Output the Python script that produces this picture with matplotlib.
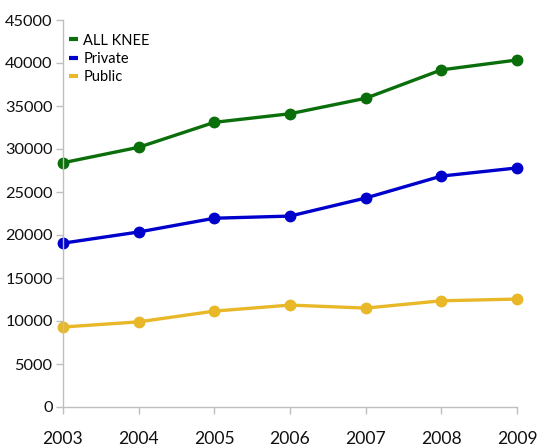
import matplotlib
matplotlib.use("Agg")
import matplotlib.pyplot as plt

years = [2003, 2004, 2005, 2006, 2007, 2008, 2009]
all_knee = [28400, 30200, 33100, 34100, 35900, 39200, 40350]
private = [19050, 20350, 21950, 22200, 24300, 26850, 27800]
public = [9300, 9900, 11150, 11850, 11500, 12350, 12550]

series = [
    ("ALL KNEE", all_knee, "#0a6e0a"),
    ("Private", private, "#0000cc"),
    ("Public", public, "#e8b828"),
]

plt.rcParams["font.family"] = ["Lato", "DejaVu Sans"]

fig = plt.figure(figsize=(5.4, 4.46), dpi=100)
ax = fig.add_axes([63 / 540, 39 / 446, (517 - 63) / 540, (407 - 20) / 446])

for name, vals, color in series:
    ax.plot(years, vals, color=color, lw=2.4, marker="o", ms=7.5,
            label=name, solid_joinstyle="round")

ax.set_xlim(2003, 2009)
ax.set_ylim(0, 45000)
ax.set_xticks(years)
ax.set_yticks(range(0, 45001, 5000))

gray = "#bfbfbf"
for side in ("top", "right"):
    ax.spines[side].set_visible(False)
for side in ("left", "bottom"):
    ax.spines[side].set_color(gray)
    ax.spines[side].set_linewidth(1.0)
ax.tick_params(axis="both", colors=gray, labelcolor="#111111",
               length=5, width=1.0)
ax.tick_params(axis="y", labelsize=11.8, pad=2.5)
ax.tick_params(axis="x", labelsize=12.6, pad=12)
for line in ax.get_lines():
    line.set_clip_on(False)

leg = ax.legend(loc="upper left", bbox_to_anchor=(0.0, 0.98), frameon=False,
                handlelength=0.6, handletextpad=0.4, labelspacing=0.3,
                fontsize=10.5, borderaxespad=0.0, borderpad=0.4)
for h in leg.legend_handles:
    h.set_marker("")
    h.set_linewidth(3)
    h.set_solid_capstyle("butt")

fig.savefig("out.png", dpi=100)
